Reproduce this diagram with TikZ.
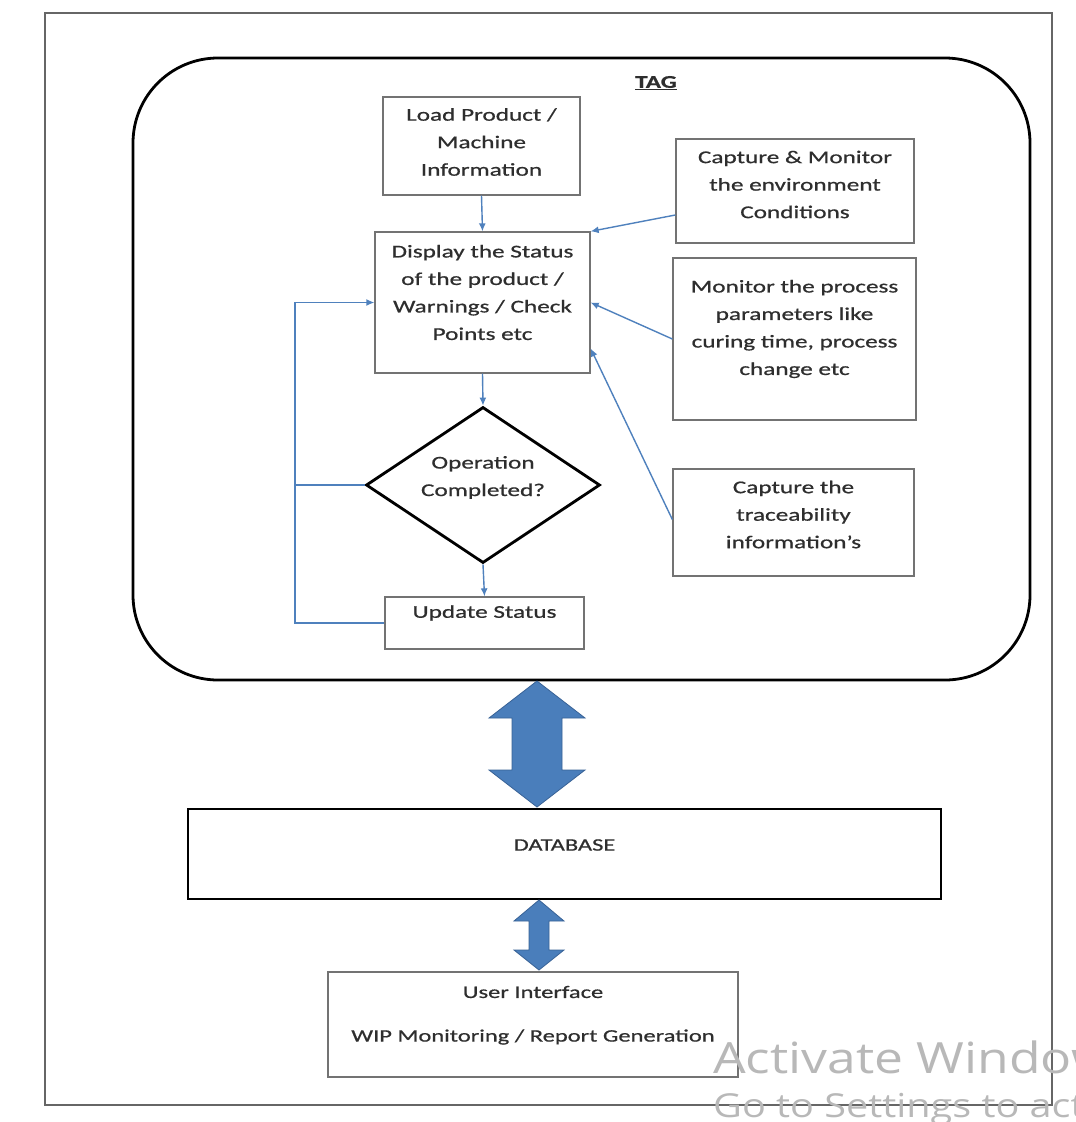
\documentclass[tikz,border=0pt]{standalone}
\usepackage{fontspec}
\setmainfont{Carlito}[FakeStretch=1.4,FakeBold=0.7]
\newfontfamily\wmfont{Open Sans}[FakeStretch=1.2]
\usetikzlibrary{arrows.meta,shapes.geometric,calc}
\definecolor{connblue}{RGB}{79,129,189}
\definecolor{blockblue}{RGB}{74,126,187}
\definecolor{blockedge}{RGB}{56,98,150}
\begin{document}
\begin{tikzpicture}[x=1pt,y=-1pt,
  box/.style={draw=black!55, line width=1.3pt, rectangle, inner sep=0pt},
  lbl/.style={font=\fontsize{18}{27.5}\selectfont, align=center, text=black!82, inner sep=0pt},
  conn/.style={draw=connblue, line width=1.4pt, -{Latex[length=8pt,width=7pt]}},
  plain/.style={draw=connblue, line width=1.4pt},
  blockarrow/.style={fill=blockblue, draw=blockedge, line width=0.8pt, line join=miter}]
\path[use as bounding box, fill=white] (0,0) rectangle (1076,1122);
% frames
\node[draw=black!60, line width=1.4pt, minimum width=1007pt, minimum height=1092pt, inner sep=0pt] (frame) at (548.5,559) {};
\node[draw=black, line width=2.8pt, minimum width=897pt, minimum height=622pt, rounded corners=85pt, inner sep=0pt] (tag) at (581.5,369) {};
\node[font=\bfseries\fontsize{18}{20}\selectfont, text=black!82] (tagl) at (656,83) {\underline{TAG}};
% boxes
\node[box, minimum width=197pt, minimum height=98pt] (load) at (481.5,146) {};
\node[lbl] (loadt) at (481.5,142) {Load Product /\\Machine\\Information};
\node[box, minimum width=215pt, minimum height=141pt] (disp) at (482.5,302.5) {};
\node[lbl] (dispt) at (482.5,292.5) {Display the Status\\of the product /\\Warnings / Check\\Points etc};
\node[box, minimum width=238pt, minimum height=104pt] (env) at (795,191) {};
\node[lbl] (envt) at (795,184.5) {Capture \& Monitor\\the environment\\Conditions};
\node[box, minimum width=243pt, minimum height=162pt] (mon) at (794.5,339) {};
\node[lbl] (mont) at (794.5,329) {Monitor the process\\parameters like\\curing time, process\\change etc};
\node[box, minimum width=241pt, minimum height=107pt] (trace) at (793.5,522.5) {};
\node[lbl] (tracet) at (793.5,514.5) {Capture the\\traceability\\information’s};
\node[draw=black, line width=2.8pt, diamond, minimum width=234pt, minimum height=156pt, inner sep=0pt] (dia) at (483,485) {};
\node[lbl] (diat) at (483,477.5) {Operation\\Completed?};
\node[box, minimum width=199pt, minimum height=52pt] (upd) at (484.5,623) {};
\node[lbl] (updt) at (484.5,613) {Update Status};
\node[draw=black, line width=2.6pt, minimum width=753pt, minimum height=90pt, inner sep=0pt] (db) at (564.5,854) {};
\node[lbl, font=\fontsize{17.5}{20}\selectfont] (dbt) at (564.5,845) {DATABASE};
\node[box, minimum width=410pt, minimum height=105pt] (ui) at (533,1024.5) {};
\node[lbl, font=\fontsize{17.5}{20}\selectfont] (uit1) at (533,992) {User Interface};
\node[lbl, font=\fontsize{17.5}{20}\selectfont] (uit2) at (533,1037) {WIP Monitoring / Report Generation};
% connectors
\coordinate (lx) at (295,0);
\draw[conn] (load.south) -- (disp.north);
\draw[conn] (disp.south) -- (dia.north);
\draw[conn] (dia.south) -- (upd.north);
\draw[conn] ([yshift=-24pt]env.west) -- (disp.north east);
\draw[conn] (mon.west) -- (disp.east);
\draw[conn] ([yshift=3pt]trace.west) -- ([yshift=-46pt]disp.east);
\draw[plain] (dia.west) -- (dia.west -| lx);
\draw[conn] (upd.west) -- (upd.west -| lx) |- (disp.west);
% block arrows
\draw[blockarrow] (537,681) -- (585,718) -- (562,718) -- (562,770) -- (585,770) -- (537,807) -- (489,770) -- (512,770) -- (512,718) -- (489,718) -- cycle;
\draw[blockarrow] (539,900) -- (564,921) -- (549,921) -- (549,950) -- (564,950) -- (539,970) -- (514,950) -- (529,950) -- (529,921) -- (514,921) -- cycle;
% watermark
\begin{scope}
\clip (0,0) rectangle (1076,1122);
\node[anchor=base west, font=\wmfont\fontsize{43}{43}\selectfont, text=black!28, inner sep=0pt] (wm1) at (713,1073) {Activate Windows};
\node[anchor=base west, font=\wmfont\fontsize{33}{33}\selectfont, text=black!28, inner sep=0pt] (wm2) at (713,1117) {Go to Settings to activate Windows.};
\end{scope}
\end{tikzpicture}
\end{document}
